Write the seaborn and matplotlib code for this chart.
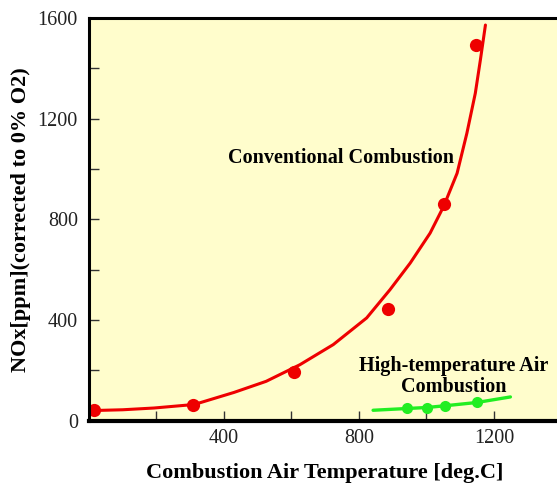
import numpy as np
import pandas as pd
import matplotlib
matplotlib.use("Agg")
import matplotlib.pyplot as plt
import seaborn as sns

# --- Data ---
conv_temp = [15, 309, 607, 885, 1051, 1148]
conv_nox = [41, 62, 192, 443, 861, 1493]

# fitted curve for conventional combustion (traced)
conv_fit_temp = [15, 100, 193, 312, 430, 525, 625, 724, 823, 892, 952, 1011,
                 1051, 1091, 1120, 1145, 1160, 1175]
conv_fit_nox = [40, 43, 50, 64, 112, 156, 222, 302, 408, 520, 626, 745,
                851, 983, 1142, 1301, 1433, 1572]

hta_temp = [942, 1001, 1056, 1150]
hta_nox = [50, 49, 59, 73]

hta_fit_temp = [842, 942, 1001, 1056, 1150, 1249]
hta_fit_nox = [41, 48, 52, 59, 72, 94]

x_major = [400, 800, 1200]
x_minor = [200, 600, 1000]
y_major = [0, 400, 800, 1200, 1600]
y_minor = [200, 600, 1000, 1400]

# --- Style ---
sns.set_style("ticks")
plt.rcParams["font.family"] = ["Liberation Serif", "DejaVu Serif"]
plt.rcParams["text.color"] = "black"
plt.rcParams["axes.labelcolor"] = "black"
plt.rcParams["xtick.color"] = "black"
plt.rcParams["ytick.color"] = "black"

red = "#ee0000"
green = "#22ee22"

fig = plt.figure(figsize=(5.57, 4.86), dpi=100)
ax = fig.add_axes([0.1598, 0.1346, 0.848, 0.8284])
ax.set_facecolor("#fffdcc")

conv_fit = pd.DataFrame({"temp": conv_fit_temp, "nox": conv_fit_nox})
conv_pts = pd.DataFrame({"temp": conv_temp, "nox": conv_nox})
hta_fit = pd.DataFrame({"temp": hta_fit_temp, "nox": hta_fit_nox})
hta_pts = pd.DataFrame({"temp": hta_temp, "nox": hta_nox})

sns.lineplot(data=conv_fit, x="temp", y="nox", color=red, lw=2.2, sort=False, ax=ax,
             solid_joinstyle="round")
ax.plot(conv_pts["temp"], conv_pts["nox"], "o", color=red, ms=9.5, mew=0)
sns.lineplot(data=hta_fit, x="temp", y="nox", color=green, lw=2.4, sort=False, ax=ax,
             solid_joinstyle="round")
ax.plot(hta_pts["temp"], hta_pts["nox"], "o", color=green, ms=8, mew=0)

ax.set_xlim(0, 1400)
ax.set_ylim(0, 1600)
ax.set_xticks(x_major)
ax.set_xticks(x_minor, minor=True)
ax.set_yticks(y_major)
ax.set_yticks(y_minor, minor=True)
ax.tick_params(which="both", direction="in", length=7, width=1, color="#333333",
               labelcolor="#222222", labelsize=14.5, top=False, right=False)
ax.tick_params(axis="y", pad=8)
ax.tick_params(axis="x", pad=6)

for side in ["left", "top"]:
    ax.spines[side].set_linewidth(2.2)
ax.spines["bottom"].set_linewidth(3)
ax.spines["right"].set_visible(False)
for s in ax.spines.values():
    s.set_color("black")

ax.set_xlabel("Combustion Air Temperature [deg.C]", fontsize=16, fontweight="bold", labelpad=11)
ax.set_ylabel("NOx[ppm](corrected to 0% O2)", fontsize=16, fontweight="bold", labelpad=5)

ax.text(747, 1042, "Conventional Combustion", fontsize=14.5, fontweight="bold",
        ha="center", va="center")
ax.text(1082, 175, "High-temperature Air\nCombustion", fontsize=14.5, fontweight="bold",
        ha="center", va="center", linespacing=1.1)

fig.savefig("out.png", dpi=100)
